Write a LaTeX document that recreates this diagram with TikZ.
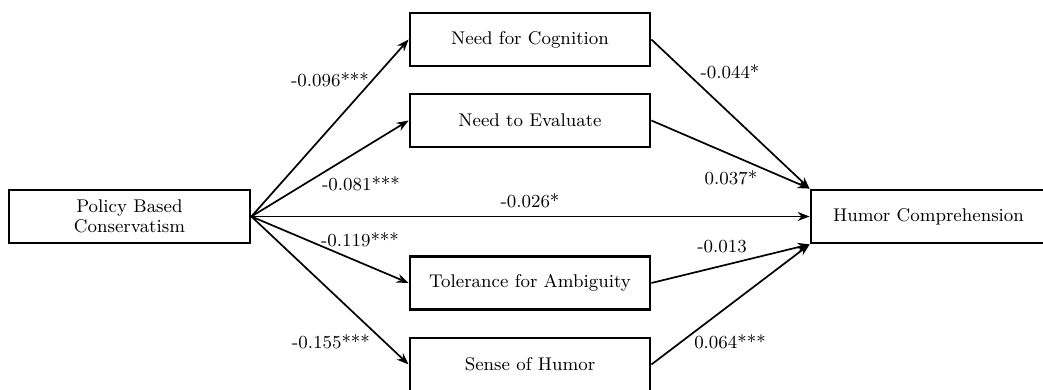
\documentclass[tikz,border=0pt]{standalone}
\usetikzlibrary{arrows.meta}
\begin{document}
\begin{tikzpicture}[x=0.5pt,y=-0.5pt,
  every node/.style={font=\fontsize{9.2}{10}\selectfont},
  varbox/.style={draw, line width=1.4pt, inner sep=0pt, align=center, minimum height=26.5pt},
  midbox/.style={varbox, minimum width=120pt},
  path/.style={line width=0.85pt, -{Stealth[length=6pt,width=4.5pt]}},
  coef/.style={inner sep=1pt}]
\useasboundingbox (0,0) rectangle (1043,390);
\node[varbox, minimum width=120.5pt] (pbc) at (129.5,216.5) {Policy Based\\Conservatism};
\node[midbox] (nfc) at (530,39.5) {Need for Cognition};
\node[midbox] (nte) at (530,120.5) {Need to Evaluate};
\node[midbox] (tfa) at (530,283) {Tolerance for Ambiguity};
\node[midbox] (soh) at (530,364.5) {Sense of Humor};
\node[varbox, minimum width=117.5pt] (hc) at (928.5,216.5) {Humor Comprehension};
\draw[path] (pbc.east) -- (nfc.west);
\draw[path] (pbc.east) -- (nte.west);
\draw[path] (pbc.east) -- (tfa.west);
\draw[path] (pbc.east) -- (soh.west);
\draw[path] (pbc.east) -- (hc.west);
\draw[path] (nfc.east) -- (hc.north west);
\draw[path] (nte.east) -- (hc.north west);
\draw[path] (tfa.east) -- (hc.south west);
\draw[path] (soh.east) -- (hc.south west);
\node[coef] (c1) at (330,80) {-0.096***};
\node[coef] (c2) at (361,184) {-0.081***};
\node[coef] (c3) at (530,201) {-0.026*};
\node[coef] (c4) at (360,240) {-0.119***};
\node[coef] (c5) at (331,342) {-0.155***};
\node[coef] (c6) at (730,72) {-0.044*};
\node[coef] (c7) at (731,178) {0.037*};
\node[coef] (c8) at (722,247) {-0.013};
\node[coef] (c9) at (730,342) {0.064***};
\end{tikzpicture}
\end{document}
